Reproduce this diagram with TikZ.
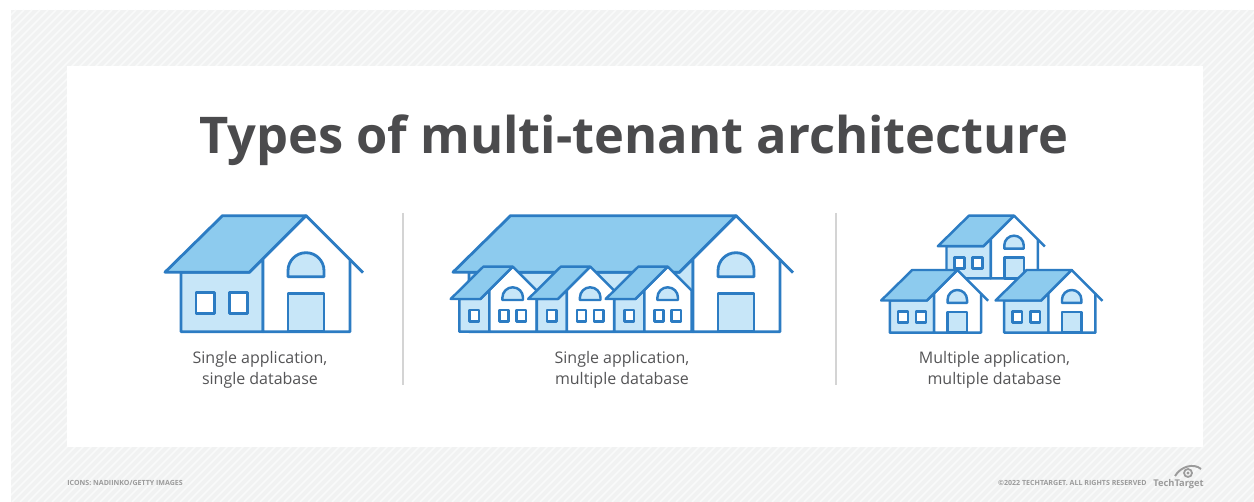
\documentclass[tikz,border=0pt]{standalone}
\usepackage{fontspec}
\setmainfont{Open Sans}
\definecolor{RoofBlue}{HTML}{8DCBEE}
\definecolor{WallBlue}{HTML}{C7E6F8}
\definecolor{LineBlue}{HTML}{2C7CC3}
\definecolor{InkGray}{HTML}{4B4B4D}
\definecolor{TextGray}{HTML}{555557}
\definecolor{HatchGray}{HTML}{F1F2F2}
\definecolor{HatchLight}{HTML}{F9FAFA}
\definecolor{RuleGray}{HTML}{D4D4D4}
\definecolor{NoteGray}{HTML}{9B9B9B}

\begin{document}
\begin{tikzpicture}[
  x=0.02cm, y=-0.02cm,
  ol/.style    = {draw=LineBlue, line width=1.6pt, line join=round},
  roof/.style  = {ol, fill=RoofBlue},
  wall/.style  = {ol, fill=WallBlue},
  gable/.style = {ol, fill=white},
  pane/.style  = {ol, fill=white},
  thin/.style  = {ol/.append style={line width=1.4pt}},
  lbl/.style   = {font=\fontsize{9.1}{12.5}\selectfont, text=TextGray,
                  align=center, anchor=base},
  note/.style  = {font=\bfseries\fontsize{4.02}{5}\selectfont, text=NoteGray,
                  inner sep=0pt},
  % house with a side wing, #1 = reach of the wing roof
  pics/house/.style = {code={
    \path[wall] (-#1+16,56.5) -- (-56.5,56.5) -- (-43,43) -- (-43,116)
      -- (-#1+16,116) -- cycle;
    \path[pane] (-#1+31,77) rectangle ++(18.3,20.6);
    \path[pane] (-#1+64.3,77) rectangle ++(18.3,20.6);
    \path[gable] (-43,43) -- (0,0) -- (44,44) -- (44,116) -- (-43,116) -- cycle;
    \path[ol] (44,44) -- (57,57);
    \path[wall] (-18,77.6) rectangle (18,116);
    \path[wall] (-18,61) -- (-18,55) arc[start angle=180, end angle=360, radius=18]
      -- (18,61) -- cycle;
    \path[roof] (-#1,56.5) -- (-#1+57.5,0) -- (0,0) -- (-56.5,56.5) -- cycle;
  }},
  % narrow row house
  pics/rowhouse/.style = {code={
    \path[wall] (-53.4,32.3) -- (-32.3,32.3) -- (-23.4,23.4) -- (-23.4,65)
      -- (-53.4,65) -- cycle;
    \path[pane] (-43.4,43.3) rectangle ++(9.5,11.7);
    \path[gable] (-23.4,23.4) -- (0,0) -- (24,24) -- (24,65) -- (-23.4,65) -- cycle;
    \path[pane] (-13.3,43.3) rectangle ++(9.3,11.7);
    \path[pane] (4,43.3) rectangle ++(9.3,11.7);
    \path[wall] (-10.3,33.3) -- (-10.3,30.9)
      arc[start angle=180, end angle=360, radius=10.3] -- (10.3,33.3) -- cycle;
    \path[roof] (-62,32.3) -- (-29.4,0) -- (0,0) -- (-32.3,32.3) -- cycle;
  }},
]
\useasboundingbox (0,0) rectangle (1254,502);

% hatched frame
\fill[HatchGray] (11,10) rectangle (1254,502);
\begin{scope}
  \clip (11,10) rectangle (1254,502);
  \foreach \i in {-500,-492,...,1254}
    \draw[HatchLight, line width=0.9pt] (\i,502) -- ++(492,-492);
\end{scope}
\fill[white] (67,66) rectangle (1203,447);

\node[font=\bfseries\fontsize{28.8}{34}\selectfont, text=InkGray, anchor=base]
  (title) at (634,154) {Types of multi-tenant architecture};

% first column
\pic at (306,215.7) {house=141};
\node[lbl] (lblA) at (260,385) {Single application,\\single database};

\coordinate (divA1) at (403,213);
\coordinate (divA2) at (403,385);
\draw[RuleGray, line width=0.8pt] (divA1) -- (divA2);

% second column
\pic at (736,215.7) {house=283};
\foreach \px in {512.7,590.2,667.7}
  \pic[thin] at (\px,266.7) {rowhouse};
\node[lbl] (lblB) at (622,385) {Single application,\\multiple database};

\coordinate (divB1) at (836,213);
\coordinate (divB2) at (836,385);
\draw[RuleGray, line width=0.8pt] (divB1) -- (divB2);

% third column
\pic[thin, scale=0.54] at (1014,215.7) {house=141};
\pic[thin, scale=0.54] at (957.3,270) {house=141};
\pic[thin, scale=0.54] at (1071.7,270) {house=141};
\node[lbl] (lblC) at (994.5,385) {Multiple application,\\multiple database};

% footer
\node[note, anchor=base west] (credit) at (67,486) {ICONS: NADIINKO/GETTY IMAGES};
\node[note, anchor=base east] (rights) at (1147,486)
  {\textcopyright 2022 TECHTARGET. ALL RIGHTS RESERVED};
\node[font=\bfseries\fontsize{5.3}{7}\selectfont, text=NoteGray, anchor=base west,
  inner sep=0pt] (brand) at (1153,487) {TechTarget};
\draw[NoteGray, line width=1.1pt] (1175,476) .. controls (1181,466) and (1194,463) .. (1201,469);
\draw[NoteGray, line width=1pt] (1188,473) circle[radius=4];
\fill[NoteGray] (1188,473) circle[radius=1.6];
\end{tikzpicture}
\end{document}
